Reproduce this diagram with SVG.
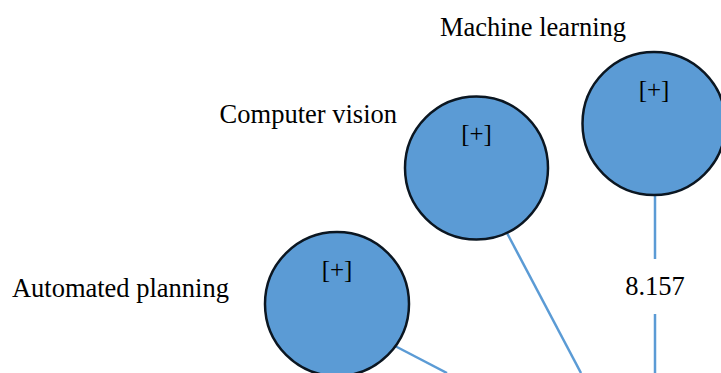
<svg xmlns="http://www.w3.org/2000/svg" width="721" height="373" viewBox="0 0 721 373">
  <style>
    .node { fill: #5b9bd5; stroke: #0b1621; stroke-width: 2.5; }
    .edge { stroke: #5b9bd5; stroke-width: 2.5; fill: none; }
    text { font-family: 'Liberation Serif', Tinos, 'DejaVu Serif', serif; fill: #000; }
    .label { font-size: 26.5px; }
    .expand { font-size: 25px; text-anchor: middle; }
  </style>
  <rect width="721" height="373" fill="#fff"/>

  <g id="connectors">
    <line class="edge" x1="655" y1="195" x2="655" y2="259"/>
    <line class="edge" x1="655" y1="314" x2="655" y2="373"/>
    <line class="edge" x1="507" y1="233" x2="581" y2="373"/>
    <line class="edge" x1="395" y1="346" x2="447" y2="373"/>
    <text class="label" x="655" y="295" text-anchor="middle" font-family="Liberation Serif, serif">8.157</text>
  </g>

  <g id="machine-learning">
    <circle class="node" cx="654" cy="123.5" r="71.5"/>
    <text class="expand" x="654" y="98" font-family="Liberation Serif, serif">[+]</text>
    <text class="label" x="533" y="35.5" text-anchor="middle" font-family="Liberation Serif, serif">Machine learning</text>
  </g>

  <g id="computer-vision">
    <circle class="node" cx="476.5" cy="168" r="71.5"/>
    <text class="expand" x="476.5" y="142" font-family="Liberation Serif, serif">[+]</text>
    <text class="label" x="397" y="122.5" text-anchor="end" font-family="Liberation Serif, serif">Computer vision</text>
  </g>

  <g id="automated-planning">
    <circle class="node" cx="337" cy="304" r="72"/>
    <text class="expand" x="337" y="278" font-family="Liberation Serif, serif">[+]</text>
    <text class="label" x="229" y="297" text-anchor="end" font-family="Liberation Serif, serif">Automated planning</text>
  </g>
</svg>
